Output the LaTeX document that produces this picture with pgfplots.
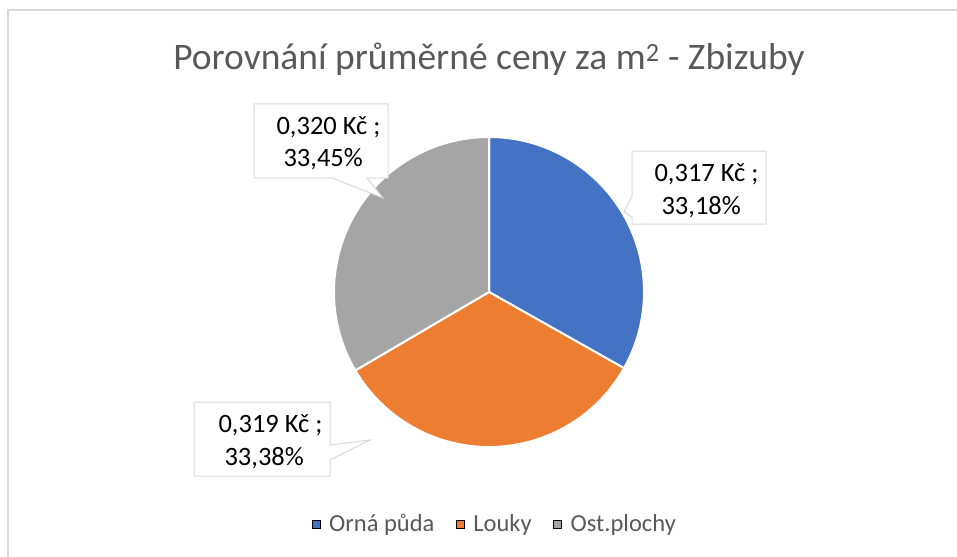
\documentclass[border=0pt]{standalone}
\usepackage{fontspec}
\setmainfont{Carlito}
\usepackage{pgfplots}
\pgfplotsset{compat=1.18}
\definecolor{pieblue}{HTML}{4472C4}
\definecolor{pieorange}{HTML}{ED7D31}
\definecolor{piegray}{HTML}{A5A5A5}
\definecolor{titlegray}{HTML}{595959}
\definecolor{framegray}{HTML}{D9D9D9}
% data: price per m2 (Kc) and share (%)
\def\valA{0.317}\def\pctA{33.18}
\def\valB{0.319}\def\pctB{33.38}
\def\valC{0.320}\def\pctC{33.45}
\newcommand{\lblfont}{\fontsize{26.5bp}{30bp}\selectfont}
\newcommand{\legfont}{\fontsize{24.5bp}{28bp}\selectfont\color{titlegray}}
\begin{document}
\begin{tikzpicture}
\path[use as bounding box] (0,0) rectangle (957bp,557bp);
\pgfmathsetmacro{\tot}{\pctA+\pctB+\pctC}
\pgfmathsetmacro{\angA}{90-\pctA/\tot*360}
\pgfmathsetmacro{\angB}{90-(\pctA+\pctB)/\tot*360}
\begin{axis}[
  at={(0,0)}, anchor=south west,
  scale only axis, width=957bp, height=557bp,
  xmin=0, xmax=957, ymin=0, ymax=557, y dir=reverse,
  hide axis, clip=false,
  legend columns=3,
  legend style={draw=none, fill=none, at={(axis cs:495,524)}, anchor=center,
    nodes={font=\legfont},
    /tikz/every odd column/.append style={column sep=7bp},
    /tikz/every even column/.append style={column sep=20bp}},
]
% chart frame
\draw[framegray, line width=1.2bp] (axis cs:8,557) -- (axis cs:8,10) -- (axis cs:957,10);
% title
\node[anchor=base, text=titlegray, font=\fontsize{37.5bp}{42bp}\selectfont] at (axis cs:489,70)
  {Porovnání průměrné ceny za m\textsuperscript{2} - Zbizuby};
% pie wedges
\fill[pieblue, draw=white, line width=2bp] (axis cs:489,292) -- +(90:155bp)
  arc[start angle=90, end angle=\angA, radius=155bp] -- cycle;
\fill[pieorange, draw=white, line width=2bp] (axis cs:489,292) -- +(\angA:155bp)
  arc[start angle=\angA, end angle=\angB, radius=155bp] -- cycle;
\fill[piegray, draw=white, line width=2bp] (axis cs:489,292) -- +(\angB:155bp)
  arc[start angle=\angB, end angle=-270, radius=155bp] -- cycle;
% callouts
\filldraw[fill=white, draw=framegray, line width=1bp]
  (axis cs:632,151) -- (axis cs:766,151) -- (axis cs:766,224) -- (axis cs:632,224)
  -- (axis cs:632,217) -- (axis cs:624,212) -- (axis cs:632,196) -- cycle;
\node[anchor=base west, font=\lblfont] at (axis cs:651,181) {0,317 Kč ;};
\node[anchor=base west, font=\lblfont] at (axis cs:658,214) {33,18\%};
\filldraw[fill=white, draw=framegray, line width=1bp]
  (axis cs:194,402) -- (axis cs:330,402) -- (axis cs:330,445) -- (axis cs:370,440)
  -- (axis cs:330,460) -- (axis cs:330,476) -- (axis cs:194,476) -- cycle;
\node[anchor=base west, font=\lblfont] at (axis cs:215,432) {0,319 Kč ;};
\node[anchor=base west, font=\lblfont] at (axis cs:221,465) {33,38\%};
\filldraw[fill=white, draw=framegray, line width=1bp]
  (axis cs:254,104) -- (axis cs:388,104) -- (axis cs:388,178) -- (axis cs:367,178)
  -- (axis cs:383,198) -- (axis cs:332,178) -- (axis cs:254,178) -- cycle;
\node[anchor=base west, font=\lblfont] at (axis cs:273,134) {0,320 Kč ;};
\node[anchor=base west, font=\lblfont] at (axis cs:280,166) {33,45\%};
% legend
\addlegendimage{only marks, mark=square*, mark size=4bp, mark options={draw=none, fill=pieblue}}
\addlegendentry{\legfont Orná půda}
\addlegendimage{only marks, mark=square*, mark size=4bp, mark options={draw=none, fill=pieorange}}
\addlegendentry{\legfont Louky}
\addlegendimage{only marks, mark=square*, mark size=4bp, mark options={draw=none, fill=piegray}}
\addlegendentry{\legfont Ost.plochy}
\end{axis}
\end{tikzpicture}
\end{document}
